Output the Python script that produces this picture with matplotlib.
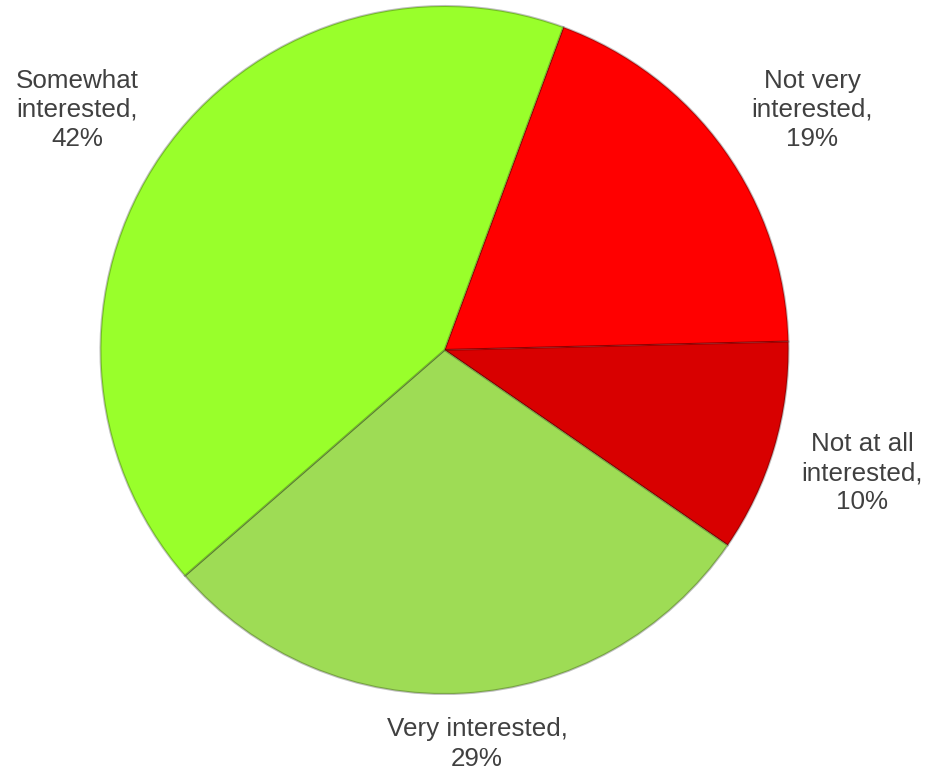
import matplotlib.pyplot as plt

categories = ['Not very\ninterested,', 'Not at all\ninterested,', 'Very interested,', 'Somewhat\ninterested,']
shares = [19, 10, 29, 42]
colors = ['#FF0000', '#D80000', '#9EDC55', '#99FF2B']

# label centres in pixel coordinates (from top-left)
label_pos = [(812, 110), (862, 473), (477, 744), (77, 110)]

W, H = 926, 772
fig = plt.figure(figsize=(W / 100, H / 100), dpi=100)
ax = fig.add_axes([0, 0, 1, 1])
ax.set_aspect('equal')

cx, cy, r = 444.5, H - 350, 344
wedges, _ = ax.pie(shares, colors=colors, startangle=69.8, counterclock=False,
                   center=(cx, cy), radius=r, frame=True,
                   wedgeprops=dict(linewidth=1.5, edgecolor='#00000040'))
ax.set_xlim(0, W)
ax.set_ylim(0, H)
ax.axis('off')

for cat, val, (x, y) in zip(categories, shares, label_pos):
    ax.text(x, H - y, f'{cat}\n{val}%', ha='center', va='center',
            fontsize=18.7, family='Liberation Sans', color='#404040',
            linespacing=1.27)

fig.savefig('out.png', dpi=100)
